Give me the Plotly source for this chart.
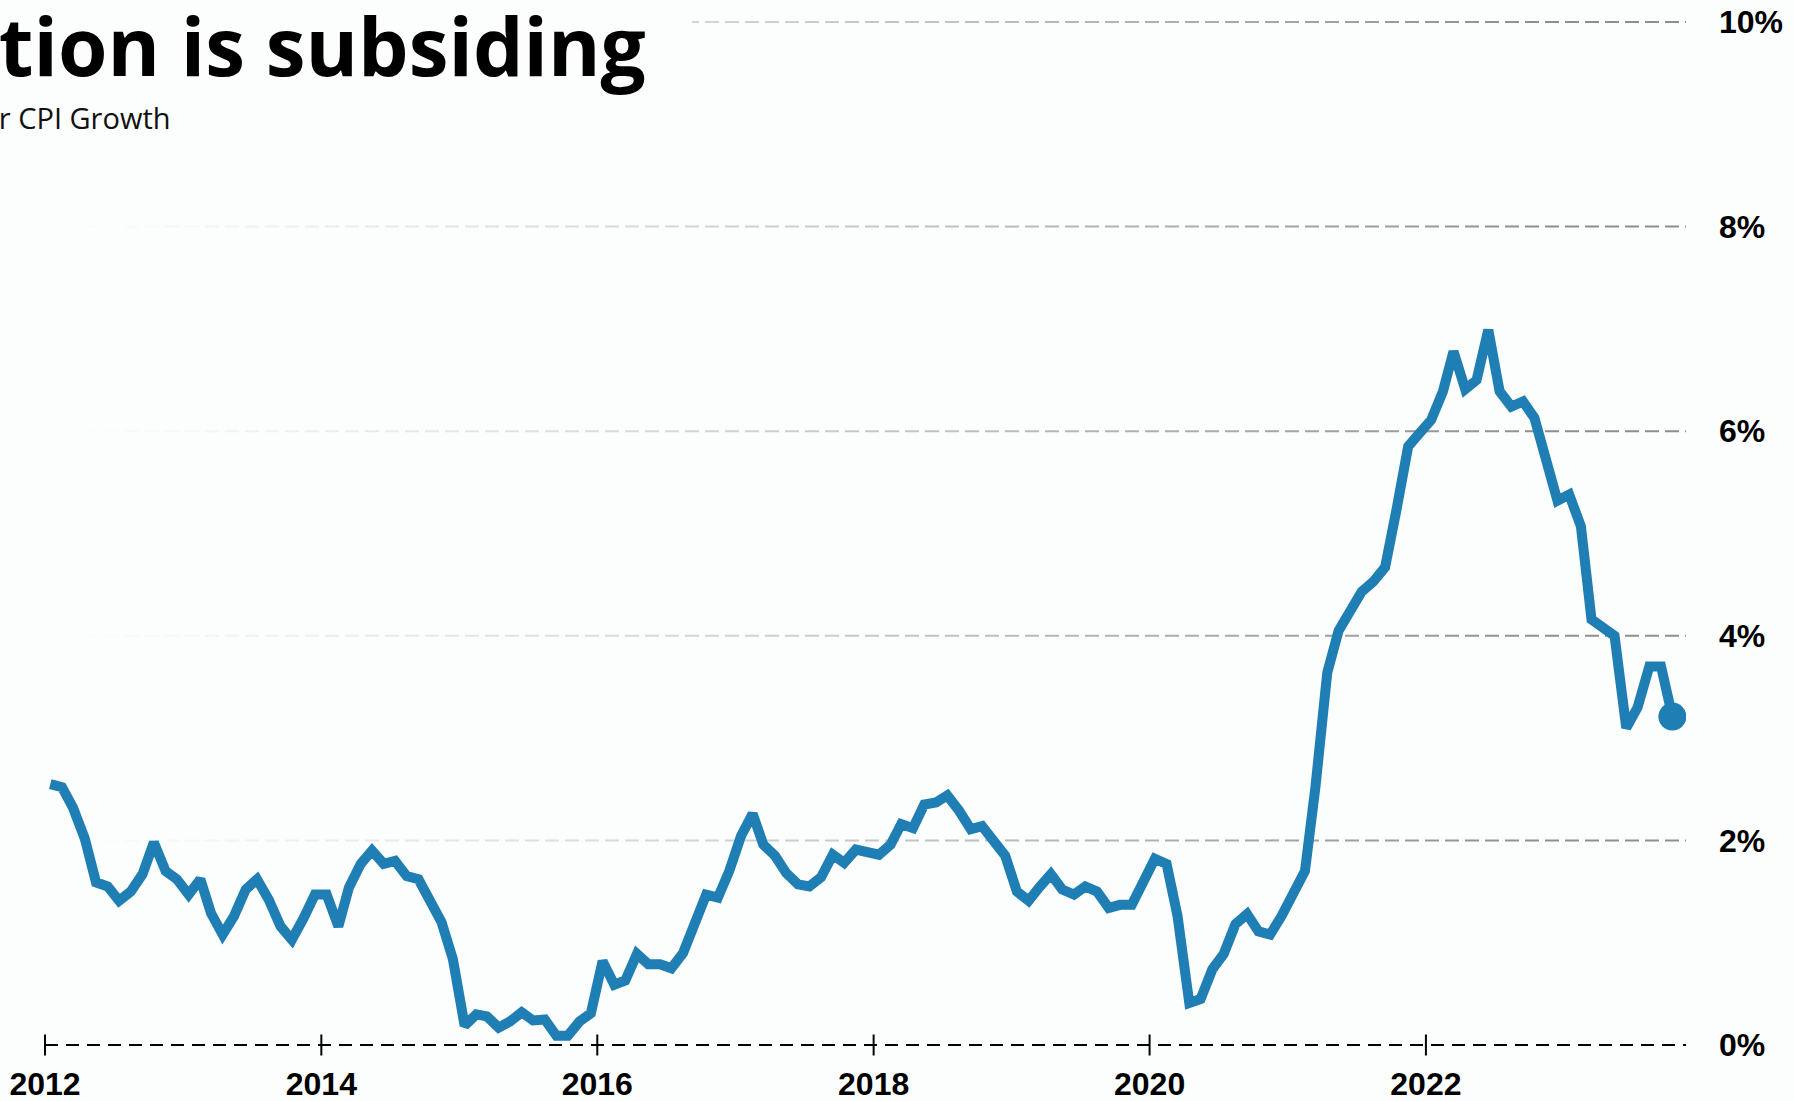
import plotly.graph_objects as go
import pandas as pd

# ---------------- data ----------------
cpi_growth = [
    # 2012
    2.55, 2.52, 2.32, 2.02, 1.59, 1.55, 1.41, 1.50, 1.67, 1.98, 1.70, 1.62,
    # 2013
    1.47, 1.62, 1.29, 1.08, 1.26, 1.52, 1.62, 1.42, 1.16, 1.03, 1.24, 1.47,
    # 2014
    1.47, 1.16, 1.54, 1.77, 1.90, 1.77, 1.80, 1.65, 1.62, 1.42, 1.20, 0.84,
    # 2015
    0.19, 0.30, 0.28, 0.17, 0.23, 0.32, 0.24, 0.25, 0.09, 0.09, 0.23, 0.31,
    # 2016
    0.82, 0.59, 0.63, 0.89, 0.79, 0.79, 0.75, 0.90, 1.22, 1.47, 1.44, 1.70,
    # 2017
    2.04, 2.26, 1.96, 1.85, 1.68, 1.57, 1.55, 1.64, 1.86, 1.78, 1.91, 1.88,
    # 2018
    1.86, 1.96, 2.16, 2.12, 2.35, 2.37, 2.44, 2.29, 2.11, 2.14, 2.00, 1.85,
    # 2019
    1.50, 1.41, 1.54, 1.67, 1.52, 1.47, 1.55, 1.50, 1.34, 1.37, 1.37, 1.62,
    # 2020
    1.82, 1.77, 1.26, 0.41, 0.45, 0.74, 0.89, 1.18, 1.28, 1.11, 1.08, 1.26,
    # 2021
    1.47, 1.70, 2.53, 3.64, 4.05, 4.26, 4.43, 4.53, 4.67, 5.23, 5.85, 5.98,
    # 2022
    6.11, 6.39, 6.78, 6.41, 6.50, 6.99, 6.39, 6.24, 6.29, 6.13, 5.67, 5.32,
    # 2023
    5.38, 5.07, 4.16, 4.09, 4.00, 3.10, 3.30, 3.70, 3.70, 3.21,
]
first_month = "2012-01-01"
months = pd.date_range(first_month, periods=len(cpi_growth), freq="MS") + pd.Timedelta(days=14)

x_tick_years = [2012, 2014, 2016, 2018, 2020, 2022]
x_tick_dates = [f"{y}-01-01" for y in x_tick_years]
x_tick_labels = [str(y) for y in x_tick_years]
x_range = ["2012-01-01", "2023-11-20"]

y_tick_values = [0, 2, 4, 6, 8, 10]
y_tick_labels = [f"{v}%" for v in y_tick_values]
y_range = [0, 10]

title_text = "Inflation is subsiding"
subtitle_text = "Year-over-Year CPI Growth"

# ---------------- style ----------------
BG = (252, 253, 253)
BG_HEX = "#fcfdfd"
LINE = "#1f7eb3"
GRID = (142, 142, 142)
W, H = 1794, 1101
ML, MR, MT, MB = 45, 108, 22, 56
PW = W - ML - MR
PH = H - MT - MB


def px_x(px):
    return (px - ML) / PW


def px_y(py):
    return (H - MB - py) / PH


def val_to_paper_y(v):
    return (v - y_range[0]) / (y_range[1] - y_range[0])


def blend(alpha):
    c = [round(b + (g - b) * alpha) for b, g in zip(BG, GRID)]
    return f"rgb({c[0]},{c[1]},{c[2]})"


fig = go.Figure()

fig.add_trace(go.Scatter(
    x=months, y=cpi_growth, mode="lines",
    line=dict(color=LINE, width=10),
    hoverinfo="skip", showlegend=False,
))
fig.add_trace(go.Scatter(
    x=[months[-1]], y=[cpi_growth[-1]], mode="markers",
    marker=dict(color=LINE, size=28),
    hoverinfo="skip", showlegend=False,
))
# axis tick crosses on the 0% baseline
fig.add_trace(go.Scatter(
    x=x_tick_dates, y=[y_range[0]] * len(x_tick_dates), mode="markers",
    marker=dict(symbol="line-ns", size=15, color="black",
                line=dict(color="black", width=2)),
    cliponaxis=False, hoverinfo="skip", showlegend=False,
))

shapes = []
# dashed grid lines that fade out towards the left
seg_px = 40
fade_start, fade_end = ML, 1550
n_seg = PW // seg_px + 1
for v in y_tick_values[1:]:
    yp = val_to_paper_y(v)
    for i in range(n_seg):
        a_px = ML + i * seg_px
        b_px = min(a_px + seg_px, ML + PW)
        if b_px <= a_px:
            continue
        t = ((a_px + b_px) / 2 - fade_start) / (fade_end - fade_start)
        t = max(0.0, min(1.0, t))
        shapes.append(dict(
            type="line", xref="paper", yref="paper",
            x0=px_x(a_px), x1=px_x(b_px), y0=yp, y1=yp,
            line=dict(color=blend(t ** 1.2), width=2, dash="14px,6px"),
            layer="below",
        ))
# title block hides the top grid line behind it
shapes.append(dict(
    type="rect", xref="paper", yref="paper",
    x0=px_x(-5), x1=px_x(692), y0=0.975, y1=1.02,
    fillcolor=BG_HEX, line=dict(width=0), layer="below",
))
# dashed 0% baseline
shapes.append(dict(
    type="line", xref="paper", yref="paper",
    x0=0, x1=1, y0=val_to_paper_y(0), y1=val_to_paper_y(0),
    line=dict(color="black", width=2, dash="13px,8px"),
    layer="below",
))

fig.update_layout(
    width=W, height=H,
    margin=dict(l=ML, r=MR, t=MT, b=MB, pad=0, autoexpand=False),
    paper_bgcolor=BG_HEX, plot_bgcolor=BG_HEX,
    showlegend=False,
    shapes=shapes,
    annotations=[
        dict(text=title_text, xref="paper", yref="paper",
             x=px_x(648), y=px_y(45), xanchor="right", yanchor="middle",
             showarrow=False,
             font=dict(family="Open Sans", size=80, color="black", weight=700)),
        dict(text=subtitle_text, xref="paper", yref="paper",
             x=px_x(173), y=px_y(117), xanchor="right", yanchor="middle",
             showarrow=False,
             font=dict(family="Open Sans", size=29, color="#111111")),
    ],
    xaxis=dict(
        type="date", range=x_range,
        tickvals=x_tick_dates, ticktext=x_tick_labels,
        tickfont=dict(family="Liberation Sans, Arial", size=32, color="black", weight=700),
        showgrid=False, showline=False, zeroline=False, ticks="",
        ticklabelstandoff=17, automargin=False, fixedrange=True,
    ),
    yaxis=dict(
        side="right", range=y_range,
        tickvals=y_tick_values, ticktext=y_tick_labels,
        tickfont=dict(family="Liberation Sans, Arial", size=32, color="black", weight=700),
        showgrid=False, zeroline=False,
        showline=False, ticks="", ticklabelstandoff=32, automargin=False,
        fixedrange=True,
    ),
)

fig.write_html(
    "out.html",
    config={"displayModeBar": False},
    post_script="document.body.style.margin='0';document.body.style.overflow='hidden';",
)
